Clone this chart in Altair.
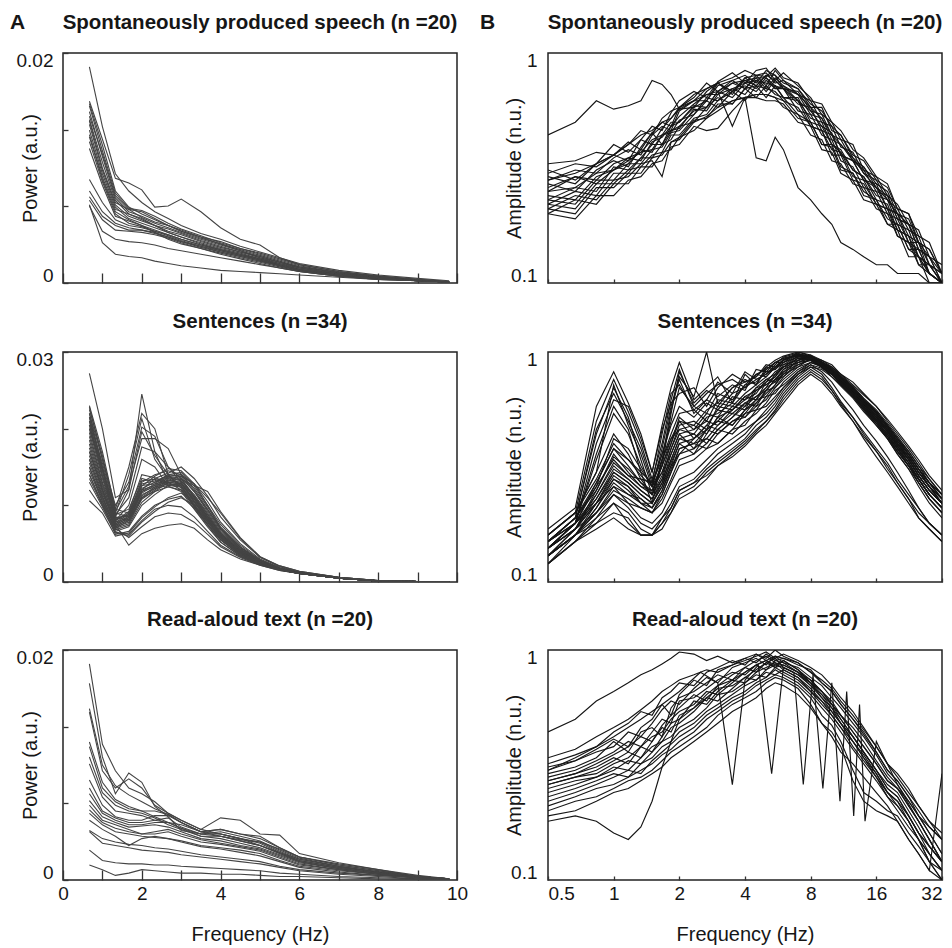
import altair as alt
import pandas as pd

FONT = "Liberation Sans"

# ---------------- Panel A: power spectra (values in units of 1e-4) ----------------
A_FREQ_SPONT = [0.67, 1, 1.33, 1.67, 2, 2.33, 2.67, 3, 3.5, 4, 4.5, 5, 5.5, 6, 7, 8, 9, 9.8]
A_SPONT = [
    [188, 136, 95, 80, 70, 62, 56, 50, 43, 38, 32, 27, 22, 17, 11, 7, 4, 2],
    [158, 125, 91, 87, 81, 66, 67, 73, 62, 48, 38, 33, 22, 16, 10, 6, 3, 1],
    [156, 120, 80, 66, 60, 55, 50, 46, 40, 36, 30, 26, 21, 16, 10, 6, 3, 1],
    [154, 115, 78, 65, 63, 58, 52, 47, 41, 35, 30, 25, 20, 15, 9, 6, 3, 1],
    [149, 110, 74, 62, 58, 53, 50, 45, 39, 34, 29, 24, 19, 14, 9, 5, 3, 1],
    [145, 112, 76, 64, 57, 52, 48, 44, 38, 33, 28, 23, 18, 14, 9, 5, 3, 1],
    [142, 105, 72, 60, 55, 50, 47, 43, 37, 32, 27, 23, 18, 13, 8, 5, 2, 1],
    [141, 100, 70, 64, 62, 56, 50, 45, 40, 34, 28, 22, 18, 13, 8, 5, 2, 1],
    [138, 98, 68, 58, 54, 50, 45, 42, 36, 31, 27, 22, 17, 13, 8, 5, 2, 1],
    [133, 95, 66, 56, 52, 48, 44, 40, 35, 30, 26, 21, 17, 12, 8, 4, 2, 1],
    [129, 92, 64, 60, 56, 50, 44, 40, 34, 29, 25, 21, 16, 12, 7, 4, 2, 1],
    [127, 90, 62, 55, 50, 46, 42, 38, 33, 29, 25, 20, 16, 12, 7, 4, 2, 1],
    [123, 88, 60, 52, 49, 45, 41, 37, 32, 28, 24, 20, 15, 11, 7, 4, 2, 1],
    [117, 85, 58, 54, 50, 44, 40, 36, 31, 27, 23, 19, 15, 11, 7, 4, 2, 1],
    [90, 70, 55, 50, 48, 45, 42, 38, 33, 28, 24, 20, 15, 11, 7, 4, 2, 1],
    [80, 62, 52, 48, 46, 43, 40, 36, 32, 27, 23, 19, 15, 11, 7, 4, 2, 1],
    [75, 58, 50, 46, 46, 44, 38, 34, 30, 26, 22, 18, 14, 10, 6, 4, 2, 1],
    [72, 55, 46, 45, 44, 42, 39, 35, 30, 25, 21, 17, 13, 10, 6, 3, 2, 1],
    [68, 35, 25, 23, 22, 19, 17, 15, 13, 11, 10, 9, 8, 7, 5, 3, 2, 1],
    [67, 45, 38, 36, 35, 33, 30, 28, 25, 22, 19, 16, 13, 10, 6, 3, 2, 1],
]

A_FREQ_SENT = [0.67, 1, 1.33, 1.67, 2, 2.33, 2.67, 3, 3.33, 3.67, 4, 4.5, 5, 5.5, 6, 7, 8, 9, 9.8]
A_SENT = [
    [272, 200, 110, 120, 245, 170, 130, 120, 100, 75, 55, 35, 24, 17, 12, 5, 1.5, 0.5, 0.3],
    [230, 170, 95, 150, 220, 200, 140, 125, 100, 78, 58, 37, 25, 17, 12, 5, 1.5, 0.5, 0.3],
    [225, 165, 90, 140, 213, 160, 135, 128, 105, 80, 60, 38, 25, 17, 12, 5, 1.5, 0.5, 0.3],
    [220, 160, 100, 130, 202, 190, 150, 130, 105, 82, 62, 40, 26, 18, 12, 5, 1.5, 0.5, 0.3],
    [215, 150, 85, 120, 196, 165, 140, 122, 98, 75, 55, 36, 24, 16, 11, 5, 1.5, 0.5, 0.3],
    [210, 155, 92, 125, 187, 187, 174, 140, 128, 100, 70, 45, 28, 18, 12, 5, 1.5, 0.5, 0.3],
    [205, 148, 88, 110, 176, 170, 150, 135, 110, 85, 62, 40, 26, 17, 12, 5, 1.5, 0.5, 0.3],
    [200, 145, 80, 100, 160, 150, 125, 118, 95, 72, 52, 34, 23, 16, 11, 5, 1.5, 0.5, 0.3],
    [228, 160, 95, 90, 130, 140, 145, 140, 120, 95, 70, 45, 28, 18, 12, 5, 1.5, 0.5, 0.3],
    [220, 150, 90, 85, 125, 138, 148, 145, 128, 105, 78, 50, 30, 19, 13, 6, 2, 0.6, 0.3],
    [215, 145, 88, 95, 135, 130, 140, 138, 118, 92, 68, 43, 27, 18, 12, 5, 1.5, 0.5, 0.3],
    [210, 140, 85, 80, 120, 135, 142, 150, 135, 112, 85, 55, 32, 20, 13, 6, 2, 0.6, 0.3],
    [205, 138, 82, 88, 128, 132, 138, 135, 112, 88, 64, 42, 27, 17, 12, 5, 1.5, 0.5, 0.3],
    [200, 135, 80, 92, 140, 136, 130, 128, 108, 85, 62, 40, 26, 17, 12, 5, 1.5, 0.5, 0.3],
    [195, 130, 84, 86, 118, 128, 140, 143, 125, 100, 75, 48, 29, 18, 12, 5, 1.5, 0.5, 0.3],
    [190, 128, 78, 84, 122, 130, 136, 132, 110, 86, 63, 41, 26, 17, 12, 5, 1.5, 0.5, 0.3],
    [185, 125, 80, 90, 132, 134, 128, 126, 104, 82, 60, 39, 25, 16, 11, 5, 1.5, 0.5, 0.3],
    [180, 122, 76, 82, 116, 126, 138, 140, 122, 98, 72, 46, 28, 18, 12, 5, 1.5, 0.5, 0.3],
    [175, 120, 78, 88, 126, 128, 132, 130, 106, 84, 61, 40, 26, 17, 12, 5, 1.5, 0.5, 0.3],
    [170, 118, 74, 80, 112, 124, 136, 138, 128, 110, 90, 57, 33, 21, 14, 6, 2, 0.6, 0.3],
    [165, 115, 76, 86, 120, 126, 130, 128, 108, 84, 60, 39, 25, 16, 11, 5, 1.5, 0.5, 0.3],
    [160, 112, 72, 78, 110, 122, 134, 136, 118, 94, 70, 45, 28, 18, 12, 5, 1.5, 0.5, 0.3],
    [155, 110, 74, 84, 118, 124, 128, 125, 102, 80, 58, 38, 25, 16, 11, 5, 1.5, 0.5, 0.3],
    [150, 108, 70, 76, 108, 120, 132, 134, 126, 118, 92, 58, 33, 21, 14, 6, 2, 0.6, 0.3],
    [145, 105, 72, 82, 114, 122, 126, 124, 100, 78, 56, 37, 24, 16, 11, 5, 1.5, 0.5, 0.3],
    [140, 102, 68, 74, 104, 118, 130, 132, 114, 90, 66, 43, 27, 17, 12, 5, 1.5, 0.5, 0.3],
    [135, 100, 70, 80, 110, 118, 124, 120, 98, 76, 55, 36, 24, 16, 11, 5, 1.5, 0.5, 0.3],
    [130, 98, 66, 72, 100, 114, 126, 128, 112, 88, 64, 42, 27, 17, 12, 5, 1.5, 0.5, 0.3],
    [170, 120, 75, 48, 63, 70, 74, 76, 70, 55, 42, 30, 22, 15, 11, 5, 1.5, 0.5, 0.3],
    [160, 112, 70, 58, 72, 85, 90, 88, 78, 62, 46, 32, 22, 15, 11, 5, 1.5, 0.5, 0.3],
    [150, 105, 65, 62, 80, 95, 100, 98, 85, 66, 48, 33, 23, 16, 11, 5, 1.5, 0.5, 0.3],
    [140, 100, 62, 66, 86, 100, 108, 112, 96, 74, 52, 34, 23, 16, 11, 5, 1.5, 0.5, 0.3],
    [120, 95, 64, 60, 78, 92, 104, 110, 100, 80, 58, 38, 25, 16, 11, 5, 1.5, 0.5, 0.3],
    [106, 90, 60, 64, 84, 98, 110, 116, 104, 84, 60, 39, 25, 16, 11, 5, 1.5, 0.5, 0.3],
]

A_FREQ_READ = [0.67, 1, 1.33, 1.67, 2, 2.33, 2.67, 3, 3.5, 4, 4.5, 5, 5.5, 6, 7, 8, 9, 9.8]
A_READ = [
    [188, 118, 95, 80, 75, 68, 58, 52, 44, 40, 36, 30, 24, 18, 12, 7, 3, 1],
    [171, 107, 75, 93, 85, 64, 55, 43, 40, 42, 38, 34, 26, 19, 12, 7, 3, 1],
    [149, 100, 82, 74, 68, 62, 57, 50, 42, 38, 35, 33, 27, 20, 13, 8, 3, 1],
    [146, 95, 80, 88, 80, 65, 58, 52, 44, 54, 52, 40, 39, 23, 15, 9, 3, 1],
    [120, 85, 70, 64, 60, 60, 57, 50, 42, 44, 40, 38, 28, 20, 13, 8, 3, 1],
    [116, 80, 68, 62, 60, 55, 50, 45, 40, 40, 36, 33, 25, 18, 12, 7, 3, 1],
    [107, 76, 65, 60, 58, 54, 48, 44, 38, 38, 34, 30, 23, 17, 11, 7, 3, 1],
    [101, 72, 60, 58, 56, 52, 50, 48, 42, 44, 40, 36, 28, 20, 14, 9, 4, 1],
    [87, 65, 55, 52, 52, 56, 56, 50, 42, 40, 36, 32, 24, 17, 11, 7, 3, 1],
    [80, 60, 54, 50, 50, 52, 54, 46, 40, 38, 34, 30, 23, 16, 10, 6, 3, 1],
    [75, 58, 52, 48, 48, 50, 50, 45, 38, 36, 32, 28, 22, 16, 10, 6, 2, 1],
    [69, 55, 50, 46, 47, 48, 46, 42, 36, 34, 30, 27, 21, 15, 10, 6, 2, 1],
    [65, 52, 48, 44, 40, 42, 44, 40, 35, 32, 29, 26, 20, 14, 9, 5, 2, 1],
    [61, 50, 45, 42, 40, 40, 42, 38, 33, 31, 28, 25, 19, 13, 9, 5, 2, 1],
    [58, 48, 42, 40, 38, 37, 36, 34, 30, 28, 26, 23, 17, 12, 8, 5, 2, 1],
    [52, 44, 38, 30, 36, 38, 36, 33, 29, 27, 24, 21, 16, 11, 7, 4, 2, 1],
    [43, 36, 33, 31, 30, 28, 27, 25, 22, 20, 18, 16, 12, 9, 6, 4, 2, 1],
    [42, 32, 30, 28, 26, 25, 24, 22, 20, 18, 16, 14, 11, 8, 5, 3, 1, 0.5],
    [26, 17, 15, 14, 14, 13, 13, 12, 11, 10, 9, 8, 6, 5, 3, 2, 1, 0.5],
    [13, 9, 4, 6, 9, 8, 7, 6, 6, 5, 5, 4, 3, 3, 2, 1, 0.5, 0.2],
]

# ---------------- Panel B: amplitude spectra (values x100, normalised units) ----------------
B_FREQ = [0.5, 0.667, 0.833, 1.0, 1.167, 1.333, 1.5, 1.667, 1.833, 2.0, 2.333, 2.667, 3.0, 3.5, 4.0, 4.5,
          5.0, 5.5, 6.0, 7.0, 8.0, 9.0, 10, 11, 12.5, 14, 16, 18, 20, 22.5, 25, 28, 32]

B_SPONT = [
    [44, 50, 62, 57, 59, 62, 76, 73, 66, 57, 62, 70, 74, 66, 78, 72, 80, 76, 70, 66, 58, 52, 44, 40, 35, 30, 26, 23, 20, 18, 15, 13, 11],
    [28, 30, 33, 36, 40, 44, 46, 50, 52, 58, 62, 66, 68, 48, 64, 35, 34, 43, 38, 26, 23, 20, 18, 15, 14, 13, 12, 12, 11, 11, 11, 10, 10],
    [33, 34, 37, 36, 40, 46, 44, 52, 56, 58, 66, 70, 74, 78, 84, 80, 79, 86, 78, 74, 62, 60, 50, 46, 38, 35, 29, 27, 21, 20, 16, 15, 11],
    [31, 28, 33, 40, 37, 42, 48, 46, 55, 62, 68, 64, 75, 82, 74, 84, 86, 76, 82, 72, 64, 54, 50, 42, 40, 31, 29, 24, 22, 18, 17, 13, 12],
    [30, 33, 32, 36, 41, 38, 45, 50, 48, 58, 64, 74, 68, 76, 80, 74, 84, 80, 74, 70, 58, 58, 46, 44, 35, 32, 27, 25, 20, 19, 15, 14, 11],
    [29, 27, 33, 36, 34, 42, 40, 47, 52, 57, 58, 68, 74, 68, 78, 80, 72, 84, 76, 70, 60, 56, 48, 44, 36, 34, 28, 26, 21, 20, 15, 14, 11],
    [28, 31, 30, 35, 38, 36, 44, 48, 46, 56, 62, 62, 72, 76, 70, 80, 82, 74, 76, 66, 62, 50, 48, 39, 37, 30, 28, 23, 21, 17, 16, 12, 11],
    [27, 25, 31, 34, 32, 39, 45, 40, 48, 53, 60, 66, 66, 74, 76, 72, 80, 80, 70, 68, 56, 54, 44, 42, 34, 32, 26, 24, 19, 18, 14, 13, 10],
    [26, 29, 28, 33, 35, 37, 42, 44, 50, 50, 58, 62, 74, 68, 76, 78, 70, 78, 72, 66, 54, 52, 42, 40, 34, 31, 25, 24, 19, 18, 14, 13, 10],
    [25, 26, 30, 31, 35, 34, 41, 43, 48, 50, 59, 58, 68, 74, 70, 78, 78, 70, 72, 62, 56, 48, 45, 36, 34, 28, 27, 21, 20, 16, 15, 12, 11],
    [25, 29, 27, 31, 34, 37, 38, 44, 45, 51, 54, 64, 62, 70, 74, 70, 78, 72, 70, 60, 58, 46, 44, 36, 34, 28, 26, 21, 20, 15, 15, 11, 10],
    [24, 23, 29, 31, 33, 38, 37, 44, 46, 48, 56, 58, 68, 64, 74, 76, 68, 76, 70, 62, 52, 50, 40, 38, 31, 29, 24, 23, 18, 17, 13, 12, 10],
    [23, 26, 25, 32, 31, 35, 40, 40, 46, 47, 57, 56, 66, 70, 66, 76, 74, 72, 64, 64, 50, 48, 40, 37, 31, 29, 23, 22, 17, 16, 13, 12, 10],
    [23, 22, 28, 28, 33, 33, 38, 39, 45, 46, 54, 62, 58, 68, 72, 68, 76, 70, 70, 56, 54, 44, 42, 34, 32, 26, 25, 20, 19, 15, 14, 11, 10],
    [22, 25, 24, 30, 30, 35, 35, 40, 42, 48, 50, 58, 64, 60, 70, 72, 64, 72, 64, 62, 48, 46, 38, 37, 29, 28, 22, 21, 17, 16, 12, 12, 10],
    [22, 21, 27, 27, 31, 32, 36, 37, 44, 44, 52, 54, 62, 68, 62, 72, 70, 68, 62, 58, 48, 46, 36, 36, 28, 27, 22, 21, 16, 15, 13, 11, 10],
    [21, 24, 23, 28, 29, 33, 34, 29, 41, 43, 51, 52, 60, 60, 70, 64, 72, 66, 64, 54, 50, 40, 40, 32, 30, 25, 23, 19, 18, 14, 13, 11, 10],
    [21, 20, 26, 26, 30, 30, 35, 36, 41, 42, 50, 53, 58, 62, 64, 66, 66, 64, 62, 52, 50, 40, 39, 31, 30, 24, 23, 18, 18, 14, 14, 11, 10],
    [20, 23, 22, 27, 27, 32, 32, 37, 38, 43, 46, 52, 56, 62, 64, 66, 66, 64, 58, 54, 44, 42, 34, 33, 27, 26, 21, 20, 16, 15, 12, 11, 10],
    [20, 19, 24, 24, 28, 29, 33, 34, 39, 40, 48, 46, 47, 56, 64, 64, 62, 62, 60, 50, 48, 38, 37, 30, 28, 23, 22, 18, 17, 13, 13, 10, 10],
]

B_SENT = [
    [17, 21, 58, 82, 60, 44, 30, 48, 70, 90, 62, 70, 78, 60, 80, 72, 86, 92, 96, 100, 97, 92, 88, 80, 74, 66, 58, 50, 44, 38, 33, 28, 24],
    [16, 20, 50, 76, 55, 40, 28, 40, 62, 84, 58, 66, 72, 76, 70, 80, 84, 90, 94, 98, 96, 90, 84, 78, 70, 62, 55, 48, 42, 36, 31, 27, 23],
    [16, 20, 30, 72, 48, 36, 26, 38, 58, 78, 64, 100, 60, 70, 74, 78, 88, 86, 92, 97, 94, 88, 82, 76, 68, 60, 52, 46, 40, 34, 29, 25, 22],
    [15, 19, 46, 66, 50, 38, 27, 44, 66, 72, 56, 62, 74, 66, 82, 76, 80, 88, 95, 99, 93, 86, 80, 74, 66, 58, 50, 44, 38, 33, 28, 24, 21],
    [15, 19, 44, 70, 52, 34, 24, 32, 54, 82, 60, 68, 64, 72, 68, 84, 82, 90, 94, 96, 92, 86, 78, 72, 64, 56, 49, 42, 37, 32, 27, 23, 20],
    [15, 18, 40, 62, 58, 42, 30, 46, 60, 66, 70, 58, 70, 80, 74, 78, 86, 84, 92, 98, 95, 88, 82, 75, 67, 59, 51, 45, 39, 34, 29, 25, 22],
    [14, 18, 36, 58, 46, 30, 22, 34, 56, 76, 54, 62, 58, 70, 76, 72, 84, 90, 90, 100, 96, 90, 84, 78, 70, 62, 54, 47, 41, 36, 31, 26, 23],
    [14, 18, 34, 54, 44, 32, 26, 36, 50, 70, 58, 54, 66, 62, 72, 80, 78, 86, 93, 97, 92, 86, 80, 74, 66, 58, 50, 44, 38, 33, 28, 24, 21],
    [16, 20, 28, 40, 34, 30, 27, 36, 48, 58, 52, 60, 56, 66, 70, 76, 80, 86, 92, 98, 96, 90, 86, 80, 72, 65, 58, 51, 45, 39, 34, 29, 25],
    [16, 20, 30, 44, 36, 28, 24, 34, 44, 54, 56, 50, 62, 60, 72, 74, 82, 84, 90, 97, 95, 92, 86, 79, 71, 63, 56, 49, 43, 37, 32, 28, 24],
    [15, 19, 27, 38, 32, 27, 25, 32, 42, 50, 48, 56, 60, 58, 66, 72, 78, 86, 88, 96, 94, 88, 84, 78, 70, 62, 55, 48, 42, 36, 31, 27, 23],
    [15, 19, 26, 42, 38, 31, 26, 30, 40, 52, 46, 54, 52, 64, 62, 70, 76, 80, 90, 95, 97, 90, 82, 76, 68, 60, 53, 46, 40, 35, 30, 26, 22],
    [15, 19, 25, 36, 30, 26, 24, 28, 38, 48, 50, 46, 58, 56, 64, 68, 74, 82, 86, 94, 95, 88, 84, 77, 69, 61, 54, 47, 41, 35, 30, 26, 23],
    [15, 18, 26, 34, 29, 28, 27, 34, 42, 46, 44, 52, 54, 60, 58, 70, 72, 78, 88, 92, 96, 91, 85, 78, 70, 62, 55, 48, 42, 37, 32, 27, 24],
    [14, 18, 24, 32, 28, 25, 23, 27, 36, 44, 46, 50, 48, 56, 62, 66, 76, 74, 84, 94, 93, 90, 83, 76, 68, 60, 52, 46, 40, 34, 29, 25, 22],
    [14, 18, 27, 38, 34, 29, 26, 32, 40, 50, 42, 48, 56, 54, 60, 64, 70, 80, 86, 90, 94, 88, 82, 75, 67, 59, 51, 45, 39, 33, 28, 24, 21],
    [14, 18, 23, 30, 27, 24, 22, 26, 34, 42, 40, 46, 50, 58, 56, 68, 72, 76, 82, 92, 96, 89, 84, 77, 69, 61, 53, 46, 40, 35, 30, 26, 22],
    [14, 17, 25, 35, 31, 27, 24, 29, 38, 46, 48, 44, 52, 56, 64, 62, 74, 78, 86, 96, 92, 86, 80, 73, 65, 57, 49, 43, 37, 32, 27, 23, 20],
    [14, 17, 22, 29, 26, 23, 21, 25, 32, 40, 42, 48, 46, 52, 58, 64, 68, 76, 84, 90, 95, 88, 82, 76, 68, 60, 52, 45, 39, 34, 29, 25, 22],
    [14, 17, 24, 33, 29, 26, 25, 30, 36, 44, 38, 46, 50, 48, 56, 62, 70, 74, 80, 92, 94, 90, 84, 78, 70, 62, 54, 47, 41, 36, 31, 27, 23],
    [13, 17, 22, 28, 25, 22, 21, 24, 30, 38, 40, 42, 48, 54, 52, 60, 66, 72, 82, 88, 93, 87, 80, 73, 65, 57, 50, 43, 38, 32, 28, 24, 21],
    [13, 17, 23, 31, 28, 25, 23, 28, 34, 42, 44, 40, 46, 52, 60, 58, 68, 76, 78, 90, 92, 89, 83, 76, 68, 60, 52, 46, 40, 35, 30, 26, 22],
    [13, 16, 21, 27, 24, 22, 22, 26, 32, 36, 42, 46, 44, 50, 54, 62, 64, 72, 80, 86, 94, 90, 84, 77, 70, 62, 55, 48, 42, 36, 31, 27, 24],
    [13, 16, 22, 30, 27, 24, 22, 27, 33, 40, 36, 44, 52, 48, 56, 60, 68, 70, 78, 88, 92, 86, 80, 74, 66, 58, 51, 45, 39, 34, 29, 25, 22],
    [13, 16, 20, 26, 24, 23, 21, 25, 31, 38, 40, 38, 44, 50, 52, 58, 62, 70, 76, 86, 90, 88, 82, 76, 68, 60, 53, 46, 40, 35, 30, 26, 23],
    [13, 16, 21, 28, 26, 22, 20, 24, 30, 36, 38, 42, 40, 46, 54, 56, 64, 66, 74, 84, 90, 87, 81, 74, 66, 58, 50, 44, 38, 33, 28, 24, 21],
    [12, 16, 20, 25, 23, 21, 20, 23, 28, 34, 36, 40, 46, 44, 50, 54, 60, 68, 72, 82, 88, 85, 80, 73, 65, 57, 49, 43, 37, 32, 28, 24, 21],
    [12, 15, 19, 24, 22, 21, 20, 22, 27, 32, 34, 38, 40, 46, 48, 56, 58, 64, 70, 80, 86, 84, 78, 71, 63, 55, 48, 42, 36, 31, 27, 23, 20],
    [15, 18, 22, 26, 22, 19, 18, 20, 24, 28, 30, 34, 38, 42, 46, 50, 56, 62, 70, 82, 90, 86, 80, 72, 64, 56, 48, 42, 36, 31, 26, 22, 19],
    [14, 17, 20, 24, 21, 18, 17, 19, 22, 26, 28, 32, 36, 40, 44, 50, 54, 60, 68, 80, 88, 82, 74, 65, 56, 48, 41, 35, 30, 25, 21, 18, 16],
    [13, 16, 19, 22, 20, 17, 16, 18, 21, 25, 27, 31, 34, 38, 42, 48, 52, 58, 66, 78, 86, 80, 70, 61, 52, 44, 37, 31, 27, 23, 19, 17, 15],
    [13, 16, 18, 20, 19, 16, 16, 18, 20, 24, 26, 30, 33, 37, 41, 46, 50, 56, 64, 76, 84, 78, 68, 59, 50, 42, 35, 30, 26, 22, 19, 17, 15],
    [12, 15, 18, 22, 18, 16, 16, 19, 21, 25, 27, 29, 32, 36, 40, 45, 50, 55, 62, 74, 82, 76, 68, 60, 52, 45, 38, 33, 28, 24, 21, 18, 16],
    [12, 15, 17, 19, 17, 16, 16, 17, 20, 23, 25, 28, 32, 35, 39, 44, 48, 54, 60, 72, 80, 74, 66, 58, 50, 43, 37, 32, 27, 23, 20, 18, 16],
]

B_READ = [
    [44, 50, 60, 66, 72, 78, 82, 87, 92, 98, 96, 90, 94, 88, 92, 96, 90, 86, 84, 78, 72, 64, 58, 52, 44, 38, 32, 27, 25, 22, 19, 17, 15],
    [18, 19, 18, 16, 15, 17, 22, 31, 40, 50, 56, 64, 70, 74, 80, 86, 90, 94, 92, 88, 80, 72, 66, 58, 50, 44, 36, 30, 27, 23, 20, 17, 15],
    [34, 37, 42, 46, 50, 55, 60, 66, 70, 74, 78, 82, 80, 86, 90, 94, 98, 92, 96, 90, 84, 78, 70, 62, 54, 46, 38, 32, 28, 24, 21, 18, 16],
    [32, 35, 38, 44, 48, 54, 52, 62, 66, 72, 70, 80, 84, 90, 86, 96, 92, 100, 94, 88, 80, 74, 68, 60, 52, 45, 38, 32, 29, 25, 21, 18, 15],
    [31, 33, 37, 41, 38, 46, 50, 58, 52, 64, 74, 70, 82, 86, 92, 88, 96, 90, 92, 86, 82, 72, 66, 58, 50, 43, 36, 30, 27, 23, 19, 16, 13],
    [30, 33, 36, 38, 44, 42, 48, 55, 60, 58, 68, 76, 72, 84, 88, 92, 86, 94, 88, 84, 76, 70, 62, 56, 48, 42, 35, 29, 26, 22, 19, 16, 13],
    [29, 31, 34, 40, 36, 44, 46, 42, 56, 62, 66, 72, 78, 74, 84, 90, 94, 88, 86, 80, 74, 66, 60, 52, 46, 40, 33, 28, 25, 21, 18, 15, 12],
    [28, 30, 33, 36, 40, 38, 44, 50, 48, 60, 62, 68, 74, 80, 78, 86, 90, 84, 90, 82, 72, 66, 58, 52, 44, 38, 32, 27, 25, 21, 18, 15, 12],
    [27, 29, 32, 35, 38, 42, 40, 47, 52, 56, 64, 60, 70, 78, 84, 80, 88, 92, 84, 78, 70, 64, 56, 50, 42, 36, 30, 26, 24, 20, 17, 14, 12],
    [27, 29, 31, 34, 32, 38, 42, 44, 50, 54, 58, 66, 64, 72, 80, 86, 82, 90, 88, 80, 72, 62, 56, 48, 42, 36, 30, 25, 23, 19, 16, 14, 12],
    [26, 28, 30, 33, 36, 34, 40, 46, 44, 52, 56, 62, 68, 70, 76, 82, 88, 84, 80, 74, 66, 60, 52, 46, 40, 34, 28, 24, 22, 18, 15, 13, 11],
    [26, 28, 29, 32, 34, 38, 36, 42, 48, 50, 60, 58, 66, 74, 72, 80, 84, 88, 82, 76, 68, 60, 54, 48, 40, 34, 29, 24, 22, 19, 16, 14, 12],
    [25, 27, 28, 31, 30, 34, 38, 40, 46, 48, 54, 62, 60, 68, 76, 74, 82, 86, 90, 82, 74, 66, 58, 50, 42, 36, 30, 25, 23, 19, 16, 13, 11],
    [24, 26, 28, 30, 33, 32, 36, 40, 42, 46, 50, 56, 64, 66, 72, 78, 76, 84, 86, 80, 70, 62, 54, 48, 40, 35, 29, 24, 21, 18, 15, 13, 11],
    [23, 25, 27, 29, 28, 32, 34, 38, 40, 44, 48, 54, 58, 64, 70, 74, 80, 78, 82, 76, 66, 58, 52, 46, 38, 33, 28, 23, 21, 18, 15, 12, 11],
    [22, 24, 26, 28, 30, 29, 33, 36, 39, 42, 46, 52, 56, 62, 66, 72, 76, 82, 78, 72, 64, 56, 50, 44, 37, 32, 27, 23, 20, 17, 15, 12, 10],
    [21, 23, 25, 26, 28, 30, 32, 35, 37, 40, 44, 50, 54, 60, 64, 70, 74, 78, 76, 70, 62, 52, 47, 40, 30, 24, 22, 20, 19, 16, 14, 12, 10],
    [20, 22, 23, 25, 27, 28, 30, 33, 36, 38, 42, 46, 52, 58, 62, 66, 72, 76, 74, 68, 58, 48, 44, 38, 27, 22, 20, 19, 18, 15, 13, 11, 29],
    [19, 20, 22, 24, 25, 27, 29, 31, 34, 36, 40, 44, 48, 54, 58, 62, 68, 72, 70, 64, 56, 48, 42, 36, 32, 28, 24, 21, 18, 15, 13, 11, 10],
]
# one read-aloud recording with deep periodic notches (own frequency samples)
B_READ_NOTCH_FREQ = [0.5, 0.667, 0.833, 1.0, 1.333, 1.667, 2.0, 2.5, 3.0, 3.5, 4.0, 4.6, 5.3, 6.0, 6.7, 7.4,
                     8.2, 9.1, 10.0, 10.9, 11.7, 12.6, 13.4, 14.2, 16, 20, 25, 32]
B_READ_NOTCH_AMP = [30, 34, 38, 42, 50, 58, 66, 80, 72, 26, 74, 86, 29, 84, 80, 26,
                    78, 25, 72, 22, 66, 19, 58, 18, 40, 26, 18, 12]


def table(freqs, rows, scale, start=0):
    recs = []
    for i, row in enumerate(rows):
        if len(row) != len(freqs):
            raise ValueError(f"row {i} has {len(row)} values, expected {len(freqs)}")
        for f, v in zip(freqs, row):
            recs.append({"f": f, "v": v * scale, "id": start + i})
    return pd.DataFrame(recs)


TXT = "#161616"
W, H = 394, 230


def text_layer(text, dx, size, align, visible=True):
    return alt.Chart(pd.DataFrame({"t": [text]})).mark_text(
        font=FONT, fontSize=size, fontWeight="bold", color=TXT, align=align, baseline="alphabetic",
        opacity=1 if visible else 0
    ).encode(text="t:N", x=alt.value(dx), y=alt.value(-24))


def left_panel(df, ymax, title, show_x, show_letter):
    x_axis = dict(values=list(range(11)), labelExpr="datum.value % 2 === 0 ? datum.label : ''",
                  labels=show_x, offset=-10, tickSize=10, tickColor="#333", tickWidth=1.3,
                  domain=False, grid=False, labelFont=FONT, labelFontSize=19, labelColor=TXT,
                  labelPadding=4, labelFlush=False)
    if show_x:
        x_axis.update(title="Frequency (Hz)", titleFont=FONT, titleFontSize=20, titleFontWeight="normal",
                      titleColor=TXT, titleX=W / 2, titleY=70, titleBaseline="alphabetic", titleAlign="center")
    else:
        x_axis.update(title=None)
    lines = alt.Chart(df).mark_line(color="#444444", strokeWidth=1.1, clip=True).encode(
        x=alt.X("f:Q", scale=alt.Scale(domain=[0, 10], nice=False, zero=False), axis=alt.Axis(**x_axis)),
        y=alt.Y("v:Q", scale=alt.Scale(domain=[0, ymax], nice=False, zero=True), axis=alt.Axis(
            values=[0, ymax / 3, 2 * ymax / 3, ymax], format="~g",
            labelExpr=f"(datum.value == 0 || datum.value > {ymax * 0.99}) ? datum.label : ''",
            offset=-5, tickSize=5, tickColor="#333", tickWidth=1.3, domain=False, grid=False,
            labelFont=FONT, labelFontSize=19, labelColor=TXT, labelPadding=10,
            labelFlush=True, labelFlushOffset=2,
            title="Power (a.u.)", titleFont=FONT, titleFontSize=20, titleFontWeight="normal", titleColor=TXT,
            titleAngle=270, titleX=-28, titleY=H / 2, titleAlign="center", titleBaseline="bottom")),
        detail="id:N",
    )
    return alt.layer(lines, text_layer("A", -53, 21, "left", show_letter),
                     text_layer(title, W / 2, 20.5, "center")).properties(width=W, height=H)


def right_panel(df, title, show_x, show_letter):
    x_axis = dict(values=[0.5, 1, 2, 4, 8, 16, 32], format="~g", labels=show_x, offset=-4, tickSize=4,
                  tickColor="#333", tickWidth=1.3, domain=False, grid=False, labelFont=FONT,
                  labelFontSize=19, labelColor=TXT, labelPadding=4, labelFlush=True, labelFlushOffset=0)
    if show_x:
        x_axis.update(title="Frequency (Hz)", titleFont=FONT, titleFontSize=20, titleFontWeight="normal",
                      titleColor=TXT, titleX=W / 2, titleY=64, titleBaseline="alphabetic", titleAlign="center")
    else:
        x_axis.update(title=None)
    lines = alt.Chart(df).mark_line(color="#151515", strokeWidth=1.15, clip=True).encode(
        x=alt.X("f:Q", scale=alt.Scale(type="log", domain=[0.5, 32], nice=False), axis=alt.Axis(**x_axis)),
        y=alt.Y("v:Q", scale=alt.Scale(type="log", domain=[0.1, 1], nice=False), axis=alt.Axis(
            values=[0.1, 1], format="~g", ticks=False, tickSize=0, domain=False, grid=False,
            labelFont=FONT, labelFontSize=19, labelColor=TXT, labelPadding=11,
            labelFlush=True, labelFlushOffset=2,
            title="Amplitude (n.u.)", titleFont=FONT, titleFontSize=20, titleFontWeight="normal", titleColor=TXT,
            titleAngle=270, titleX=-24, titleY=H / 2, titleAlign="center", titleBaseline="bottom")),
        detail="id:N",
    )
    return alt.layer(lines, text_layer("B", -68, 21, "left", show_letter),
                     text_layer(title, W / 2, 20.5, "center")).properties(width=W, height=H)


df_a1 = table(A_FREQ_SPONT, A_SPONT, 1e-4)
df_a2 = table(A_FREQ_SENT, A_SENT, 1e-4)
df_a3 = table(A_FREQ_READ, A_READ, 1e-4)
df_b1 = table(B_FREQ, B_SPONT, 0.01)
df_b2 = table(B_FREQ, B_SENT, 0.01)
df_b3 = pd.concat([table(B_FREQ, B_READ, 0.01),
                   table(B_READ_NOTCH_FREQ, [B_READ_NOTCH_AMP], 0.01, start=len(B_READ))],
                  ignore_index=True)

T1 = "Spontaneously produced speech (n =20)"
T2 = "Sentences (n =34)"
T3 = "Read-aloud text (n =20)"

S1, S2 = 24, 23
col_a = alt.vconcat(
    alt.vconcat(left_panel(df_a1, 0.02, T1, False, True), left_panel(df_a2, 0.03, T2, False, False), spacing=S1),
    left_panel(df_a3, 0.02, T3, True, False), spacing=S2)
col_b = alt.vconcat(
    alt.vconcat(right_panel(df_b1, T1, False, True), right_panel(df_b2, T2, False, False), spacing=S1),
    right_panel(df_b3, T3, True, False), spacing=S2)

chart = alt.hconcat(col_a, col_b, spacing=10).properties(
    padding={"left": 1, "top": 3, "right": 0, "bottom": 0}
).configure_view(stroke="#222222", strokeWidth=1.5)

chart.save("out.html", embed_options={"renderer": "svg", "actions": False})
